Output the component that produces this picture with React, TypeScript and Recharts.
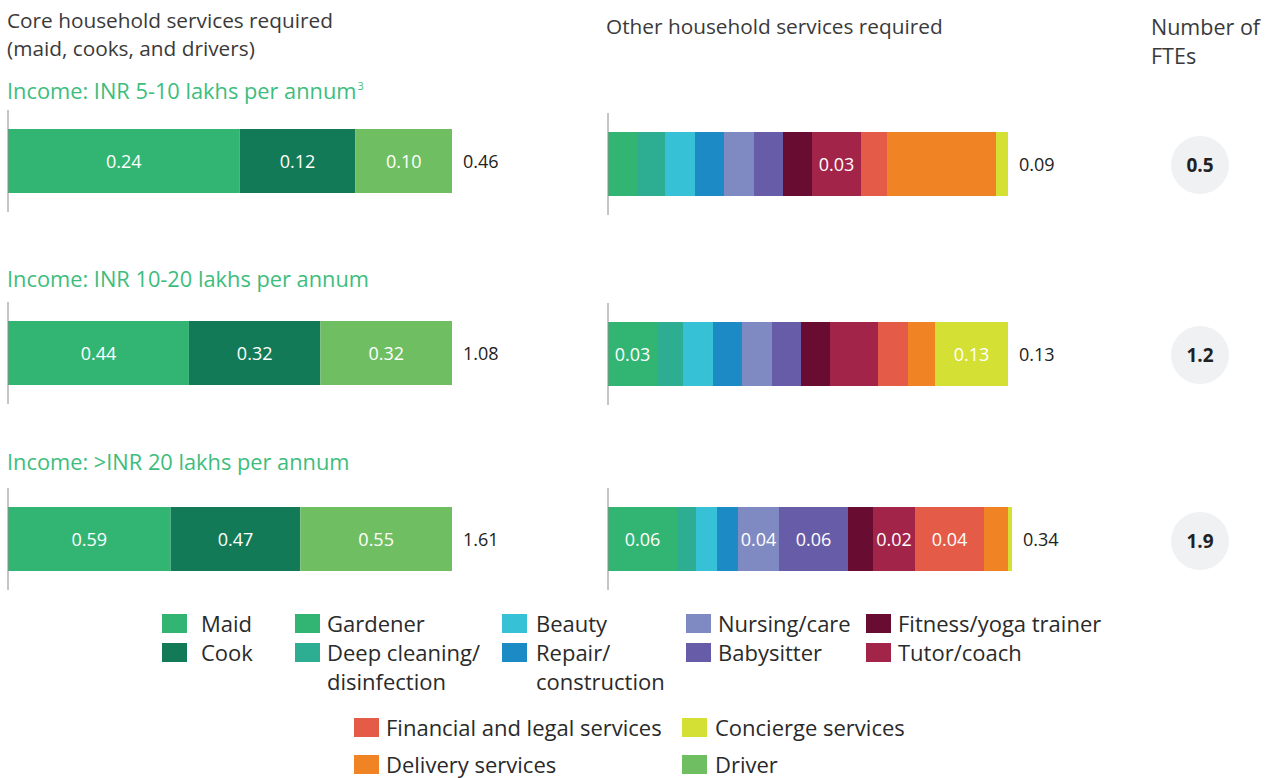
import React from "react";
import { Bar, BarChart, LabelList, ReferenceLine, XAxis, YAxis } from "recharts";

const incomeGroups = [
  "Income: INR 5-10 lakhs per annum",
  "Income: INR 10-20 lakhs per annum",
  "Income: >INR 20 lakhs per annum",
];
const incomeNotes = ["3", "", ""];

// core services, FTEs per household
const maid = [0.24, 0.44, 0.59];
const cook = [0.12, 0.32, 0.47];
const driver = [0.1, 0.32, 0.55];
const coreTotals = ["0.46", "1.08", "1.61"];

// other services: share of the bar length (%)
const gardener = [7.25, 12.25, 17.25];
const deepCleaning = [7, 6.5, 4.75];
const beauty = [7.5, 7.5, 5.25];
const repair = [7.25, 7.25, 5.25];
const nursing = [7.5, 7.5, 10.25];
const babysitter = [7.25, 7.25, 17.25];
const fitness = [7.25, 7.25, 6.25];
const tutor = [12.25, 12, 10.5];
const financial = [6.5, 7.5, 17.25];
const delivery = [27.25, 6.75, 6];
const concierge = [3, 18.25, 1];

// values printed inside the other-services segments
const gardenerLabels = ["", "0.03", "0.06"];
const nursingLabels = ["", "", "0.04"];
const babysitterLabels = ["", "", "0.06"];
const tutorLabels = ["0.03", "", "0.02"];
const financialLabels = ["", "", "0.04"];
const conciergeLabels = ["", "0.13", ""];
const noLabels = ["", "", ""];

const otherTotals = ["0.09", "0.13", "0.34"];
const fteTotals = ["0.5", "1.2", "1.9"];

const FONT = "'Open Sans', Lato, sans-serif";

type Series = { key: string; name: string; color: string; values: number[]; labels: string[] };

const coreSeries: Series[] = [
  { key: "maid", name: "Maid", color: "#32b573", values: maid, labels: maid.map((v) => v.toFixed(2)) },
  { key: "cook", name: "Cook", color: "#137a58", values: cook, labels: cook.map((v) => v.toFixed(2)) },
  { key: "driver", name: "Driver", color: "#6fbf62", values: driver, labels: driver.map((v) => v.toFixed(2)) },
];

const otherSeries: Series[] = [
  { key: "gardener", name: "Gardener", color: "#32b573", values: gardener, labels: gardenerLabels },
  { key: "deep", name: "Deep cleaning/ disinfection", color: "#2dad92", values: deepCleaning, labels: noLabels },
  { key: "beauty", name: "Beauty", color: "#37c1d7", values: beauty, labels: noLabels },
  { key: "repair", name: "Repair/ construction", color: "#1c8ac4", values: repair, labels: noLabels },
  { key: "nursing", name: "Nursing/care", color: "#7f8ac3", values: nursing, labels: nursingLabels },
  { key: "babysitter", name: "Babysitter", color: "#675ca7", values: babysitter, labels: babysitterLabels },
  { key: "fitness", name: "Fitness/yoga trainer", color: "#690c32", values: fitness, labels: noLabels },
  { key: "tutor", name: "Tutor/coach", color: "#a32449", values: tutor, labels: tutorLabels },
  { key: "financial", name: "Financial and legal services", color: "#e45b47", values: financial, labels: financialLabels },
  { key: "delivery", name: "Delivery services", color: "#f08323", values: delivery, labels: noLabels },
  { key: "concierge", name: "Concierge services", color: "#d4e033", values: concierge, labels: conciergeLabels },
];

const colorOf = (key: string) =>
  [...coreSeries, ...otherSeries].find((s) => s.key === key)!.color;

// page positions of each row
const coreTop = [110, 302, 488];
const otherTop = [113, 303, 488];
const circleY = [165, 355, 541];
const incomeY = [77, 265, 448];

const innerLabel = (text: string) => (p: any) => {
  if (!text) return null;
  const x = Number(p.x) + Number(p.width) / 2;
  const y = Number(p.y) + Number(p.height) / 2;
  return (
    <text x={x} y={y} fill="#fff" fontSize={18} fontFamily={FONT} textAnchor="middle" dominantBaseline="central">
      {text}
    </text>
  );
};

const totalLabel = (text: string) => (p: any) => {
  const x = Number(p.x) + Number(p.width) + 11;
  const y = Number(p.y) + Number(p.height) / 2;
  return (
    <text x={x} y={y} fill="#222" fontSize={18} fontFamily={FONT} dominantBaseline="central">
      {text}
    </text>
  );
};

function RowChart({ row, series, total, expand }: { row: number; series: Series[]; total: string; expand: boolean }) {
  const datum: Record<string, any> = { name: incomeGroups[row] };
  series.forEach((s) => (datum[s.key] = s.values[row]));
  const plotWidth = expand ? 444 : 404;
  return (
    <BarChart
      layout="vertical"
      width={plotWidth + 8 + 70}
      height={102}
      data={[datum]}
      stackOffset={expand ? "expand" : "none"}
      margin={{ top: 0, right: 70, bottom: 0, left: 8 }}
    >
      <XAxis type="number" hide domain={expand ? [0, 1] : [0, 101]} />
      <YAxis type="category" dataKey="name" hide />
      {series.map((s, k) => (
        <Bar key={s.key} dataKey={s.key} stackId="a" fill={s.color} barSize={64} isAnimationActive={false}>
          <LabelList dataKey={s.key} content={innerLabel(s.labels[row])} />
          {k === series.length - 1 && <LabelList dataKey={s.key} content={totalLabel(total)} />}
        </Bar>
      ))}
      <ReferenceLine x={0} stroke="#8c8c8c" strokeWidth={1} />
    </BarChart>
  );
}

const legendItems: { key: string; label: string[]; sq: number; tx: number; y: number }[] = [
  { key: "maid", label: ["Maid"], sq: 162, tx: 201, y: 624 },
  { key: "cook", label: ["Cook"], sq: 162, tx: 201, y: 653 },
  { key: "gardener", label: ["Gardener"], sq: 295, tx: 327, y: 624 },
  { key: "deep", label: ["Deep cleaning/", "disinfection"], sq: 295, tx: 327, y: 653 },
  { key: "beauty", label: ["Beauty"], sq: 502, tx: 536, y: 624 },
  { key: "repair", label: ["Repair/", "construction"], sq: 502, tx: 536, y: 653 },
  { key: "nursing", label: ["Nursing/care"], sq: 686, tx: 718, y: 624 },
  { key: "babysitter", label: ["Babysitter"], sq: 686, tx: 718, y: 653 },
  { key: "fitness", label: ["Fitness/yoga trainer"], sq: 866, tx: 898, y: 624 },
  { key: "tutor", label: ["Tutor/coach"], sq: 866, tx: 898, y: 653 },
  { key: "financial", label: ["Financial and legal services"], sq: 354, tx: 386, y: 728 },
  { key: "delivery", label: ["Delivery services"], sq: 354, tx: 386, y: 765 },
  { key: "concierge", label: ["Concierge services"], sq: 682, tx: 715, y: 728 },
  { key: "driver", label: ["Driver"], sq: 682, tx: 715, y: 765 },
];

const abs = (left: number, top: number): React.CSSProperties => ({ position: "absolute", left, top });

export default function App() {
  return (
    <div style={{ position: "absolute", left: 0, top: 0, width: 1276, height: 778, background: "#fff", fontFamily: FONT, overflow: "hidden" }}>
      <div style={{ ...abs(7, 6), fontSize: 20.8, lineHeight: "28px", color: "#3a3a3a" }}>
        Core household services required
        <br />
        (maid, cooks, and drivers)
      </div>
      <div style={{ ...abs(606, 12), fontSize: 20.8, lineHeight: "28px", color: "#3a3a3a" }}>Other household services required</div>
      <div style={{ ...abs(1151, 12), fontSize: 21.5, lineHeight: "29px", color: "#3a3a3a" }}>
        Number of
        <br />
        FTEs
      </div>

      {incomeGroups.map((g, i) => (
        <React.Fragment key={g}>
          <div style={{ ...abs(7, incomeY[i]), fontSize: 21.8, lineHeight: "28px", color: "#3dbd7d", whiteSpace: "nowrap" }}>
            {g}
            {incomeNotes[i] && (
              <span style={{ fontSize: 11, position: "relative", top: -9, marginLeft: 1, lineHeight: 0 }}>
                {incomeNotes[i]}
              </span>
            )}
          </div>
          <div style={abs(0, coreTop[i])}>
            <RowChart row={i} series={coreSeries} total={coreTotals[i]} expand />
          </div>
          <div style={abs(600, otherTop[i])}>
            <RowChart row={i} series={otherSeries} total={otherTotals[i]} expand={false} />
          </div>
          <div
            style={{
              ...abs(1171, circleY[i] - 29),
              width: 58,
              height: 58,
              borderRadius: "50%",
              background: "#f0f1f3",
              display: "flex",
              alignItems: "center",
              justifyContent: "center",
              fontWeight: 700,
              fontSize: 19,
              color: "#222",
            }}
          >
            {fteTotals[i]}
          </div>
        </React.Fragment>
      ))}

      {legendItems.map((it) => (
        <React.Fragment key={it.key}>
          <div style={{ ...abs(it.sq, it.y - 10), width: 25, height: 19, background: colorOf(it.key) }} />
          <div style={{ ...abs(it.tx, it.y - 15), fontSize: 22, lineHeight: "29px", color: "#2a2a2a", whiteSpace: "nowrap" }}>
            {it.label.map((l, k) => (
              <div key={k}>{l}</div>
            ))}
          </div>
        </React.Fragment>
      ))}
    </div>
  );
}
